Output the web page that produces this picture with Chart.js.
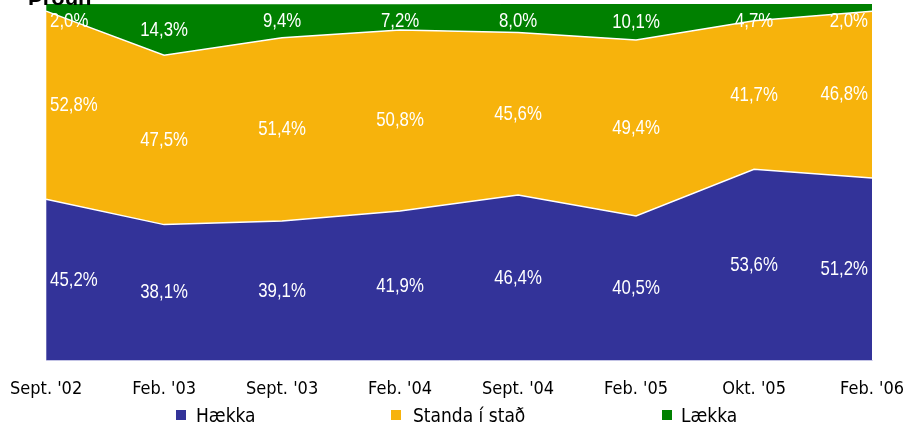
<!DOCTYPE html>
<html>
<head>
<meta charset="utf-8">
<script src="https://cdn.jsdelivr.net/npm/chart.js@4"></script>
<style>
  html, body { margin: 0; padding: 0; background: #fff; overflow: hidden; }
  #wrap { position: relative; width: 914px; height: 426px; }
  #title { position: absolute; left: 28px; top: -15px; font: bold 22px "Liberation Sans", Arial, sans-serif; color: #000; }
  .lg { position: absolute; top: 404px; font: 19px "DejaVu Sans Condensed", sans-serif; color: #000; white-space: nowrap; }
  .lg i { position: absolute; top: 6px; width: 10px; height: 10px; }
</style>
</head>
<body>
<div id="wrap">
  <canvas id="chart" width="914" height="426"></canvas>
  <div id="title">Þróun</div>
  <div id="legend"></div>
</div>
<script>
const categories = ["Sept. '02", "Feb. '03", "Sept. '03", "Feb. '04", "Sept. '04", "Feb. '05", "Okt. '05", "Feb. '06"];
const haekka = [45.2, 38.1, 39.1, 41.9, 46.4, 40.5, 53.6, 51.2];
const standa = [52.8, 47.5, 51.4, 50.8, 45.6, 49.4, 41.7, 46.8];
const laekka = [2.0, 14.3, 9.4, 7.2, 8.0, 10.1, 4.7, 2.0];
const seriesNames = ["Hækka", "Standa í stað", "Lækka"];
const seriesColors = ["#333399", "#F7B30C", "#008000"];

const narrow = '"DejaVu Sans Condensed", sans-serif';

// white percent labels in the middle of each band
const bandLabels = {
  id: "bandLabels",
  afterDatasetsDraw(chart) {
    const ctx = chart.ctx;
    const area = chart.chartArea;
    const ys = chart.scales.y;
    ctx.save();
    ctx.font = '21px "Liberation Sans", Arial, sans-serif';
    ctx.fillStyle = "#fff";
    ctx.textAlign = "center";
    ctx.textBaseline = "middle";
    const sx = 0.8;
    chart.data.datasets.forEach((ds, di) => {
      const meta = chart.getDatasetMeta(di);
      meta.data.forEach((pt, i) => {
        let base = 0;
        for (let k = 0; k < di; k++) base += chart.data.datasets[k].data[i];
        const v = ds.data[i];
        const txt = v.toFixed(1).replace(".", ",") + "%";
        const w = ctx.measureText(txt).width * sx;
        let y = ys.getPixelForValue(base + v / 2);
        y = Math.max(area.top + 17, y);
        const x = Math.max(area.left + w / 2 + 4, Math.min(area.right - w / 2 - 4, pt.x));
        ctx.save();
        ctx.translate(x, y);
        ctx.scale(sx, 1);
        ctx.fillText(txt, 0, 0);
        ctx.restore();
      });
    });
    ctx.restore();
  }
};

new Chart(document.getElementById("chart"), {
  type: "line",
  data: {
    labels: categories,
    datasets: [
      { label: seriesNames[0], data: haekka, backgroundColor: seriesColors[0], borderColor: "#ffffff", borderWidth: 1.5, fill: "origin", pointRadius: 0, tension: 0 },
      { label: seriesNames[1], data: standa, backgroundColor: seriesColors[1], borderColor: "#ffffff", borderWidth: 1.5, fill: "-1", pointRadius: 0, tension: 0 },
      { label: seriesNames[2], data: laekka, backgroundColor: seriesColors[2], borderColor: seriesColors[2], borderWidth: 0, fill: "-1", pointRadius: 0, tension: 0 }
    ]
  },
  options: {
    responsive: false,
    animation: false,
    layout: { padding: { left: 40, right: 12, top: 4, bottom: 16 } },
    scales: {
      x: {
        offset: false,
        grid: { display: false },
        border: { display: true, color: "#d8d8f0" },
        ticks: { color: "#000", font: { family: narrow, size: 18 }, maxRotation: 0, autoSkip: false, padding: 10 }
      },
      y: {
        stacked: true,
        min: 0,
        max: 100,
        display: false
      }
    },
    plugins: {
      legend: { display: false },
      tooltip: { enabled: false }
    }
  },
  plugins: [bandLabels]
});

// legend below the axis
const legendPos = [[176, 196], [391, 413], [662, 681]];
const lg = document.getElementById("legend");
seriesNames.forEach((n, i) => {
  const d = document.createElement("div");
  d.className = "lg";
  d.style.left = legendPos[i][1] + "px";
  d.innerHTML = '<i style="left:' + (legendPos[i][0] - legendPos[i][1]) + 'px;background:' + seriesColors[i] + '"></i>' + n;
  lg.appendChild(d);
});
</script>
</body>
</html>
